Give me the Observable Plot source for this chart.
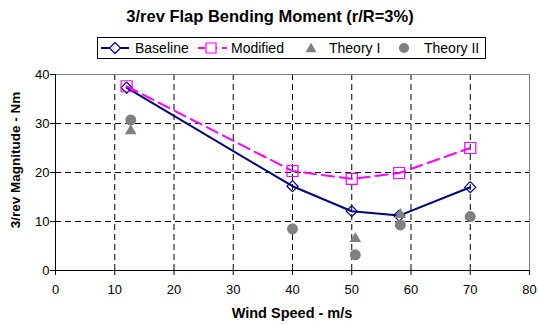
<!DOCTYPE html>
<html>
<head>
<meta charset="utf-8">
<script src="https://cdn.jsdelivr.net/npm/d3@7"></script>
<script src="https://cdn.jsdelivr.net/npm/@observablehq/plot@0.6"></script>
<style>
  body { margin: 0; background: #fff; }
  #chart { width: 538px; height: 325px; }
</style>
</head>
<body>
<div id="chart"></div>
<script>
// 3/rev flap bending moment at r/R = 3%, measured vs. predicted
const windSpeed = [12, 40, 50, 58, 70];
const baseline = [37.3, 17.2, 12.1, 11.2, 17.0];
const modified = [37.6, 20.3, 18.7, 19.9, 25.0];
const theory1Speed = [12.7, 50.6, 58.2];
const theory1 = [28.5, 6.5, 11.4];
const theory2Speed = [12.7, 40, 50.6, 58.2, 70];
const theory2 = [30.7, 8.5, 3.2, 9.3, 11.0];
const xTicks = [0, 10, 20, 30, 40, 50, 60, 70, 80];
const yTicks = [0, 10, 20, 30, 40];

const titleText = "3/rev Flap Bending Moment (r/R=3%)";
const xTitle = "Wind Speed - m/s";
const yTitle = "3/rev Magnitude - Nm";
const seriesNames = ["Baseline", "Modified", "Theory I", "Theory II"];

const font = "'Liberation Sans', Arial, Helvetica, sans-serif";
const navy = "#000080", magenta = "#FF00FF", gray = "#808080";

const baseRows = windSpeed.map((x, i) => ({x, y: baseline[i]}));
const modRows = windSpeed.map((x, i) => ({x, y: modified[i]}));
const t1Rows = theory1Speed.map((x, i) => ({x, y: theory1[i]}));
const t2Rows = theory2Speed.map((x, i) => ({x, y: theory2[i]}));

const gridStyle = {stroke: "#000", strokeOpacity: 1, strokeWidth: 1, strokeDasharray: "6,4"};

const chart = Plot.plot({
  width: 538,
  height: 325,
  marginTop: 74,
  marginBottom: 55,
  marginLeft: 55,
  marginRight: 9,
  style: {fontFamily: font, fontSize: "13px", color: "#000", background: "#fff", overflow: "visible"},
  x: {domain: [0, 80]},
  y: {domain: [0, 40]},
  marks: [
    Plot.gridX(xTicks.slice(1, -1), gridStyle),
    Plot.gridY(yTicks.slice(1), gridStyle),
    Plot.frame({stroke: gray}),
    Plot.ruleX([0], {stroke: "#000"}),
    Plot.ruleY([0], {stroke: "#000"}),
    Plot.axisX({ticks: xTicks, tickSize: 5, tickPadding: 9, label: null, tickFormat: d => String(d)}),
    Plot.axisY({ticks: yTicks, tickSize: 5, tickPadding: 1, label: null, tickFormat: d => String(d)}),
    Plot.line(baseRows, {x: "x", y: "y", stroke: navy, strokeWidth: 2}),
    Plot.dot(baseRows, {x: "x", y: "y", symbol: "diamond2", r: 5, stroke: navy, fill: "none", strokeWidth: 1.2}),
    Plot.line(modRows, {x: "x", y: "y", stroke: magenta, strokeWidth: 2, strokeDasharray: "12,6"}),
    Plot.dot(modRows, {x: "x", y: "y", symbol: "square", r: 6.2, stroke: magenta, fill: "none", strokeWidth: 1.2}),
    Plot.dot(t1Rows, {x: "x", y: "y", symbol: "triangle", r: 4.3, fill: gray, stroke: "none"}),
    Plot.dot(t2Rows, {x: "x", y: "y", r: 5.5, fill: gray, stroke: "none"})
  ]
});
document.getElementById("chart").appendChild(chart);

// Titles and legend drawn into the same SVG
const svg = d3.select(chart);
svg.append("text")
  .attr("x", 270).attr("y", 22)
  .attr("text-anchor", "middle")
  .attr("font-family", font).attr("font-weight", "bold").attr("font-size", 16.5)
  .text(titleText);
svg.append("text")
  .attr("x", 292).attr("y", 318)
  .attr("text-anchor", "middle")
  .attr("font-family", font).attr("font-weight", "bold").attr("font-size", 14.5)
  .text(xTitle);
svg.append("text")
  .attr("transform", "translate(20,160) rotate(-90)")
  .attr("text-anchor", "middle")
  .attr("font-family", font).attr("font-weight", "bold").attr("font-size", 13.5)
  .text(yTitle);

const legend = svg.append("g");
legend.append("rect")
  .attr("x", 97.5).attr("y", 37.5).attr("width", 388).attr("height", 21)
  .attr("fill", "#fff").attr("stroke", "#000");
const ly = 48;
const sym = (type, size) => d3.symbol(type, size)();
// Baseline
legend.append("line").attr("x1", 101).attr("x2", 129).attr("y1", ly).attr("y2", ly)
  .attr("stroke", navy).attr("stroke-width", 2);
legend.append("path").attr("d", sym(d3.symbolDiamond2, 78)).attr("transform", `translate(115,${ly})`)
  .attr("fill", "#fff").attr("stroke", navy).attr("stroke-width", 1.2);
// Modified
legend.append("line").attr("x1", 198).attr("x2", 227).attr("y1", ly).attr("y2", ly)
  .attr("stroke", magenta).attr("stroke-width", 2).attr("stroke-dasharray", "7,5");
legend.append("path").attr("d", sym(d3.symbolSquare, 100)).attr("transform", `translate(211,${ly})`)
  .attr("fill", "#fff").attr("stroke", magenta).attr("stroke-width", 1.2);
// Theory I
legend.append("path").attr("d", sym(d3.symbolTriangle, 52)).attr("transform", `translate(311,${ly + 1})`)
  .attr("fill", gray);
// Theory II
legend.append("circle").attr("cx", 404).attr("cy", ly).attr("r", 5).attr("fill", gray);

const labelX = [135, 231, 329, 424];
seriesNames.forEach((name, i) => {
  legend.append("text")
    .attr("x", labelX[i]).attr("y", ly + 5)
    .attr("text-anchor", "start")
    .attr("font-family", font).attr("font-size", 14)
    .text(name);
});
</script>
</body>
</html>
